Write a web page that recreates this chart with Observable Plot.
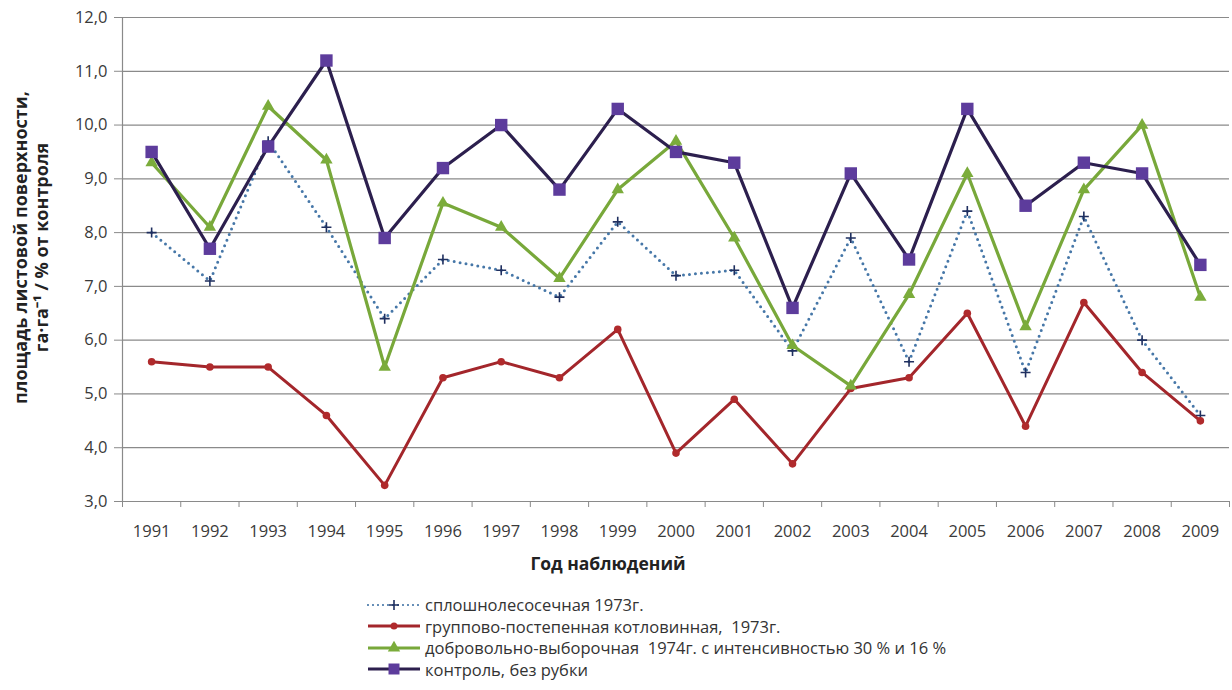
<!DOCTYPE html>
<html>
<head>
<meta charset="utf-8">
<script src="https://cdn.jsdelivr.net/npm/d3@7"></script>
<script src="https://cdn.jsdelivr.net/npm/@observablehq/plot@0.6"></script>
<style>
  html, body { margin: 0; padding: 0; background: #fff; }
  #wrap { position: relative; width: 1232px; height: 690px; font-family: "Open Sans", sans-serif; }
  #legend { position: absolute; left: 366px; top: 594px; color: #333; font-size: 16.5px; }
  .row { display: flex; align-items: center; height: 21.5px; white-space: pre; }
  .row svg { margin-right: 3px; }
</style>
</head>
<body>
<div id="wrap">
  <div id="chart"></div>
  <div id="legend"></div>
</div>
<script>
// ---- data ----
const years = [1991, 1992, 1993, 1994, 1995, 1996, 1997, 1998, 1999, 2000, 2001, 2002, 2003, 2004, 2005, 2006, 2007, 2008, 2009];
const clearcut   = [8.0, 7.1, 9.7, 8.1, 6.4, 7.5, 7.3, 6.8, 8.2, 7.2, 7.3, 5.8, 7.9, 5.6, 8.4, 5.4, 8.3, 6.0, 4.6];
const groupcut   = [5.6, 5.5, 5.5, 4.6, 3.3, 5.3, 5.6, 5.3, 6.2, 3.9, 4.9, 3.7, 5.1, 5.3, 6.5, 4.4, 6.7, 5.4, 4.5];
const selective  = [9.3, 8.1, 10.35, 9.35, 5.5, 8.55, 8.1, 7.15, 8.8, 9.7, 7.9, 5.9, 5.15, 6.85, 9.1, 6.25, 8.8, 10.0, 6.8];
const control    = [9.5, 7.7, 9.6, 11.2, 7.9, 9.2, 10.0, 8.8, 10.3, 9.5, 9.3, 6.6, 9.1, 7.5, 10.3, 8.5, 9.3, 9.1, 7.4];
const seriesNames = [
  "сплошнолесосечная 1973г.",
  "группово-постепенная котловинная,  1973г.",
  "добровольно-выборочная  1974г. с интенсивностью 30 % и 16 %",
  "контроль, без рубки"
];
const yTicks = [3, 4, 5, 6, 7, 8, 9, 10, 11, 12];
const yLabel = "площадь листовой поверхности,\nга·га⁻¹ / % от контроля";
const xLabel = "Год наблюдений";

// ---- build tables ----
const seriesValues = [clearcut, groupcut, selective, control];
const data = seriesValues.flatMap((vals, s) => years.map((year, i) => ({series: seriesNames[s], year, value: vals[i]})));
const bySeries = s => data.filter(d => d.series === seriesNames[s]);
const boundaries = [years[0] - 0.5, ...years.map(y => y + 0.5)];

const crossSymbol = {
  draw(context, size) {
    const r = Math.sqrt(size / Math.PI);
    context.moveTo(-r, 0); context.lineTo(r, 0);
    context.moveTo(0, -r); context.lineTo(0, r);
  }
};

const styles = [
  {line: "#4677a8", marker: "#1f2f5f"},
  {line: "#a3262b", marker: "#b02a2c"},
  {line: "#78a83a", marker: "#7bac3b"},
  {line: "#2c1f4e", marker: "#5d3c9c"}
];

const fmt = d => d.toFixed(1).replace(".", ",");

const chart = Plot.plot({
  width: 1232,
  height: 590,
  marginTop: 17,
  marginBottom: 89,
  marginLeft: 122,
  marginRight: 3,
  style: {fontFamily: "Open Sans, sans-serif", fontSize: "16.5px", color: "#3a3a3a", background: "#fff"},
  x: {domain: [boundaries[0], boundaries[boundaries.length - 1]]},
  y: {domain: [yTicks[0], yTicks[yTicks.length - 1]]},
  marks: [
    Plot.gridY(yTicks, {stroke: "#8a8a8a", strokeOpacity: 1, strokeWidth: 1.2}),
    Plot.ruleX([boundaries[0]], {stroke: "#8a8a8a", strokeWidth: 1.2}),
    Plot.ruleY([yTicks[0]], {stroke: "#8a8a8a", strokeWidth: 1.2}),
    Plot.axisY(yTicks, {tickSize: 8, tickPadding: 7, tickFormat: fmt, stroke: "#8a8a8a", label: null}),
    Plot.axisX(boundaries, {tickSize: 6, tickFormat: () => "", stroke: "#8a8a8a", label: null}),
    Plot.axisX(years, {tickSize: 0, tickPadding: 24, tickFormat: d => String(d), label: null}),
    // series 1: dotted with crosses
    Plot.line(bySeries(0), {x: "year", y: "value", stroke: styles[0].line, strokeWidth: 3, strokeDasharray: "0,6", strokeLinecap: "round"}),
    Plot.dot(bySeries(0), {x: "year", y: "value", symbol: crossSymbol, r: 5, stroke: styles[0].marker, strokeWidth: 1.6, fill: "none"}),
    // series 2: red with circles
    Plot.line(bySeries(1), {x: "year", y: "value", stroke: styles[1].line, strokeWidth: 3}),
    Plot.dot(bySeries(1), {x: "year", y: "value", r: 3.8, fill: styles[1].marker, stroke: "none"}),
    // series 3: green with triangles
    Plot.line(bySeries(2), {x: "year", y: "value", stroke: styles[2].line, strokeWidth: 3.2}),
    Plot.dot(bySeries(2), {x: "year", y: "value", symbol: "triangle", r: 4.6, fill: styles[2].marker, stroke: "none"}),
    // series 4: control with squares
    Plot.line(bySeries(3), {x: "year", y: "value", stroke: styles[3].line, strokeWidth: 3.2}),
    Plot.dot(bySeries(3), {x: "year", y: "value", symbol: "square", r: 7, fill: styles[3].marker, stroke: "none"}),
    // axis titles
    Plot.text([yLabel], {text: d => d, frameAnchor: "left", rotate: -90, dx: -92, dy: -12, lineAnchor: "middle", textAnchor: "middle", lineHeight: 1.2, fontWeight: "bold", fontSize: 18, fill: "#222"}),
    Plot.text([xLabel], {text: d => d, frameAnchor: "bottom", dx: -68, dy: 63, lineAnchor: "middle", textAnchor: "middle", fontWeight: "bold", fontSize: 17.5, fill: "#222"})
  ]
});
document.getElementById("chart").appendChild(chart);

// ---- legend ----
const legend = document.getElementById("legend");
const ns = "http://www.w3.org/2000/svg";
seriesNames.forEach((name, s) => {
  const row = document.createElement("div");
  row.className = "row";
  const svg = document.createElementNS(ns, "svg");
  svg.setAttribute("width", 56); svg.setAttribute("height", 16);
  const line = document.createElementNS(ns, "line");
  line.setAttribute("x1", 2); line.setAttribute("x2", 54); line.setAttribute("y1", 8); line.setAttribute("y2", 8);
  line.setAttribute("stroke", styles[s].line);
  line.setAttribute("stroke-width", s === 0 ? 2.2 : 3);
  if (s === 0) { line.setAttribute("stroke-dasharray", "0,5"); line.setAttribute("stroke-linecap", "round"); }
  svg.appendChild(line);
  const m = document.createElementNS(ns, "path");
  const sym = [crossSymbol, d3.symbolCircle, d3.symbolTriangle, d3.symbolSquare][s];
  const size = [5 * 5 * Math.PI, 3.5 * 3.5 * Math.PI, 4.6 * 4.6 * Math.PI, 6.2 * 6.2 * Math.PI][s];
  m.setAttribute("d", d3.symbol(sym, size)());
  m.setAttribute("transform", "translate(28,8)");
  if (s === 0) { m.setAttribute("stroke", styles[0].marker); m.setAttribute("stroke-width", 1.6); m.setAttribute("fill", "none"); }
  else m.setAttribute("fill", styles[s].marker);
  svg.appendChild(m);
  row.appendChild(svg);
  const span = document.createElement("span");
  span.textContent = name;
  row.appendChild(span);
  legend.appendChild(row);
});
</script>
</body>
</html>
